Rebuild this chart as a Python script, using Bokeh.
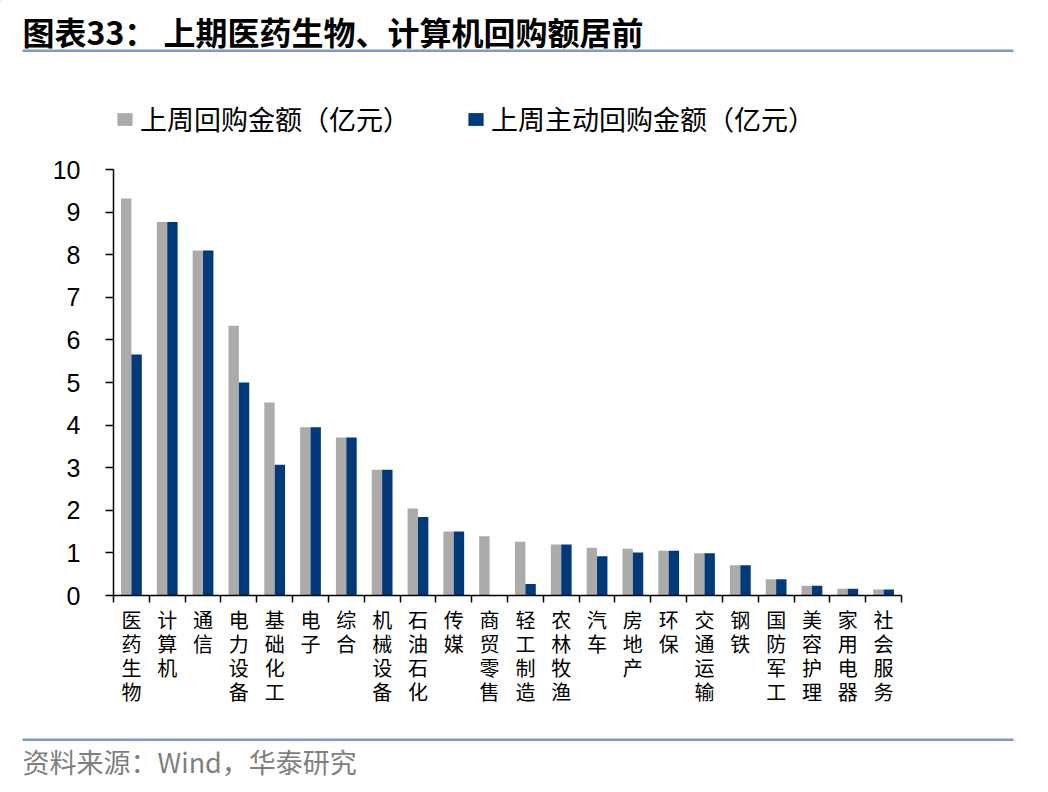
import numpy as np
from bokeh.plotting import figure
from bokeh.layouts import column
from bokeh.models import Range1d, FixedTicker, Label, BoxAnnotation, Legend, LegendItem
from bokeh.embed import file_html
from bokeh.resources import INLINE

# ---- data ----
categories = ["医药生物", "计算机", "通信", "电力设备", "基础化工", "电子", "综合",
              "机械设备", "石油石化", "传媒", "商贸零售", "轻工制造", "农林牧渔", "汽车",
              "房地产", "环保", "交通运输", "钢铁", "国防军工", "美容护理", "家用电器", "社会服务"]
repurchase_total = [9.32, 8.77, 8.10, 6.33, 4.53, 3.95, 3.71, 2.95, 2.04, 1.50, 1.39,
                    1.26, 1.20, 1.12, 1.10, 1.05, 0.99, 0.71, 0.38, 0.23, 0.16, 0.14]
repurchase_active = [5.66, 8.77, 8.10, 5.00, 3.07, 3.95, 3.71, 2.95, 1.84, 1.50, 0.0,
                     0.27, 1.20, 0.92, 1.01, 1.05, 0.99, 0.71, 0.38, 0.23, 0.16, 0.14]
series_names = ["上周回购金额（亿元）", "上周主动回购金额（亿元）"]
y_ticks = list(range(0, 11))
title_text = "图表33：  上期医药生物、计算机回购额居前"
source_text = "资料来源：Wind，华泰研究"

# ---- style ----
GRAY = "#ADAAAA"
BLUE = "#003A7A"
RULE = "#7E9AC6"
CJK = "Noto Sans CJK SC"

W = 1040
H1, H2, H3 = 150, 575, 59   # header, chart, footer heights


def blank(height):
    f = figure(width=W, height=height, output_backend="svg", toolbar_location=None,
               x_range=Range1d(0, W), y_range=Range1d(height, 0),
               x_axis_location=None, y_axis_location=None,
               min_border=0, min_border_left=0, min_border_right=0,
               min_border_top=0, min_border_bottom=0, frame_align=False)
    f.outline_line_color = None
    f.grid.visible = False
    return f


# ---- header: title, rule, legend ----
head = blank(H1)
head.add_layout(Label(x=22, y=30, text=title_text, text_font=CJK, text_font_style="bold",
                      text_font_size="32px", text_color="black", text_baseline="middle"))
head.add_layout(BoxAnnotation(left=22, right=1013, top=49, bottom=51.5,
                              fill_color=RULE, fill_alpha=1, line_color=None))
# legend swatches (off-canvas bars so only the legend glyphs show)
lg1 = head.vbar(x=[-500], top=[1], width=1, fill_color=GRAY, line_color=None)
lg2 = head.vbar(x=[-500], top=[1], width=1, fill_color=BLUE, line_color=None)
legend = Legend(items=[LegendItem(label=series_names[0], renderers=[lg1]),
                       LegendItem(label=series_names[1], renderers=[lg2])],
                location=(115, 12), orientation="horizontal",
                glyph_width=19, glyph_height=16, label_standoff=6, spacing=56,
                padding=0, margin=0, border_line_color=None,
                background_fill_alpha=0,
                label_text_font=CJK, label_text_font_size="27px",
                label_text_color="black")
head.add_layout(legend)

# ---- chart ----
n = len(categories)
FL, FR, FT, FB = 113, 901, 19, 445  # frame edges inside chart figure
p = figure(width=W, height=H2, output_backend="svg", toolbar_location=None,
           x_range=Range1d(0, n), y_range=Range1d(0, 10),
           min_border_left=FL, min_border_right=W - FR,
           min_border_top=FT, min_border_bottom=H2 - FB, frame_align=False)
p.outline_line_color = None
p.grid.visible = False

idx = np.arange(n)
p.vbar(x=idx + 0.5 - 0.145, top=repurchase_total, width=0.29,
       fill_color=GRAY, line_color=None)
p.vbar(x=idx + 0.5 + 0.145, top=repurchase_active, width=0.29,
       fill_color=BLUE, line_color=None)

xax = p.xaxis[0]
xax.ticker = FixedTicker(ticks=list(idx + 0.5), minor_ticks=list(range(n + 1)))
xax.major_label_overrides = {float(i) + 0.5: "\n".join(c) for i, c in enumerate(categories)}
xax.major_tick_line_color = None
xax.major_tick_out = 0
xax.major_tick_in = 0
xax.minor_tick_out = 7
xax.minor_tick_in = 0
xax.minor_tick_line_color = "black"
xax.minor_tick_line_width = 1.5
xax.axis_line_color = "black"
xax.axis_line_width = 1.5
xax.major_label_standoff = 2
xax.major_label_text_font = CJK
xax.major_label_text_font_size = "20px"
xax.major_label_text_color = "black"
xax.major_label_text_line_height = 0.83

yax = p.yaxis[0]
yax.ticker = FixedTicker(ticks=y_ticks, minor_ticks=[])
yax.major_tick_out = 8
yax.major_tick_in = 0
yax.major_tick_line_width = 1.5
yax.major_tick_line_color = "black"
yax.axis_line_color = "black"
yax.axis_line_width = 1.5
yax.major_label_standoff = 25
yax.major_label_text_font = "Liberation Sans"
yax.major_label_text_font_size = "25px"
yax.major_label_text_color = "black"

# ---- footer: rule, source ----
foot = blank(H3)
foot.add_layout(BoxAnnotation(left=22, right=1013, top=13, bottom=15.5,
                              fill_color=RULE, fill_alpha=1, line_color=None))
foot.add_layout(Label(x=22, y=36, text=source_text, text_font=CJK,
                      text_font_size="27px", text_color="#7F7F7F", text_baseline="middle"))

layout = column(head, p, foot, spacing=0)
open("out.html", "w").write(file_html(layout, INLINE))
